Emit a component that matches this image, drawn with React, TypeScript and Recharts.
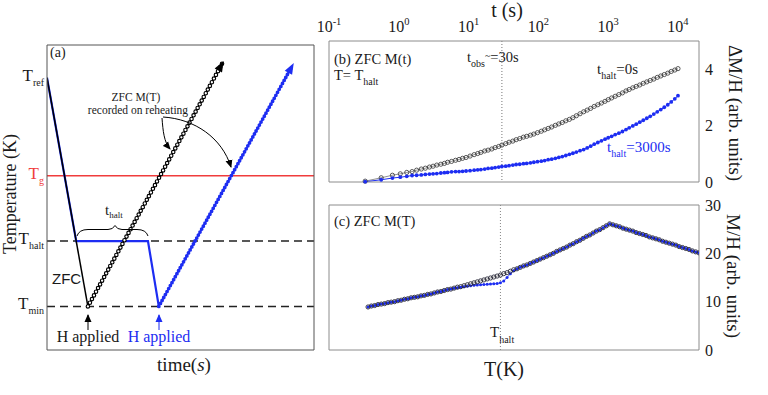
import React from 'react';
import { LineChart, Line, XAxis, YAxis, ReferenceLine } from 'recharts';

const SERIF = '"Liberation Serif", "Times New Roman", Times, serif';
const SANS = '"Liberation Sans", Arial, sans-serif';
const BLUE = '#1d2df2';
const RED = '#f03c3c';
const INK = '#1a1a1a';
const FRAME_A = '#555555';
const FRAME_BC = '#8c8c8c';

// ---------- Panel (a): measurement protocol (arbitrary time / temperature units) ----------
const levelValues = [4, 10, 16, 25];
const levelNames = ['min', 'halt', 'g', 'ref'];
const zfcCoolTime = [0, 2.45];
const zfcCoolTemp = [25, 4];
const zfcWarmTime = [2.45, 10.5];
const zfcWarmTemp = [4, 26.3];
const haltCoolTime = [0, 1.75, 6.05, 6.7];
const haltCoolTemp = [25, 10, 10, 4];
const haltWarmTime = [6.7, 14.7];
const haltWarmTemp = [4, 26.1];

// ---------- Panel (b): ZFC M(t) at T = T_halt ----------
const timeB = [
  0.33, 0.56, 0.81, 1.05, 1.3, 1.55, 1.8, 2.1, 2.4, 2.75,
  3.1, 3.5, 4, 4.5, 5, 5.7, 6.5, 7.3, 8.2, 9.2,
  10.5, 12, 13.5, 15, 17, 19, 21.5, 24, 27, 30,
  34, 38, 43, 48, 54, 61, 68, 77, 86, 97,
  110, 123, 138, 155, 175, 196, 220, 247, 278, 312,
  350, 395, 445, 500, 560, 630, 710, 800, 900, 1000,
  1120, 1260, 1420, 1600, 1800, 2000, 2250, 2520, 2830, 3180,
  3570, 4000, 4500, 5050, 5670, 6360, 7140, 8000, 9000, 10000,
];
const dMhalt0 = [
  0.03, 0.15, 0.24, 0.29, 0.34, 0.37, 0.42, 0.46, 0.49, 0.53,
  0.56, 0.60, 0.63, 0.66, 0.70, 0.73, 0.77, 0.80, 0.84, 0.87,
  0.92, 0.97, 1.01, 1.05, 1.10, 1.13, 1.17, 1.22, 1.26, 1.31,
  1.36, 1.41, 1.45, 1.50, 1.54, 1.59, 1.62, 1.66, 1.70, 1.75,
  1.80, 1.85, 1.90, 1.95, 2.01, 2.06, 2.11, 2.17, 2.22, 2.28,
  2.35, 2.42, 2.49, 2.55, 2.61, 2.68, 2.74, 2.80, 2.86, 2.92,
  2.98, 3.04, 3.10, 3.16, 3.23, 3.28, 3.34, 3.39, 3.44, 3.50,
  3.55, 3.60, 3.65, 3.71, 3.76, 3.81, 3.86, 3.92, 3.97, 4.02,
];
const dMhalt3000 = [
  0.01, 0.08, 0.14, 0.17, 0.20, 0.23, 0.24, 0.25, 0.27, 0.28,
  0.29, 0.30, 0.32, 0.33, 0.34, 0.36, 0.37, 0.37, 0.38, 0.39,
  0.40, 0.42, 0.43, 0.44, 0.46, 0.48, 0.49, 0.51, 0.53, 0.55,
  0.56, 0.58, 0.60, 0.62, 0.63, 0.65, 0.66, 0.68, 0.70, 0.72,
  0.74, 0.76, 0.79, 0.81, 0.84, 0.87, 0.90, 0.94, 0.98, 1.02,
  1.06, 1.11, 1.15, 1.21, 1.27, 1.34, 1.40, 1.46, 1.52, 1.57,
  1.62, 1.68, 1.73, 1.79, 1.86, 1.92, 1.99, 2.05, 2.12, 2.19,
  2.26, 2.33, 2.41, 2.49, 2.57, 2.65, 2.74, 2.84, 2.95, 3.06,
];
const tObs = 30;
const decadeTicks = [0.1, 1, 10, 100, 1000, 10000];

// ---------- Panel (c): ZFC M(T) ----------
const tempC = [
  0, 0.05, 0.1, 0.15, 0.2, 0.25, 0.3, 0.35, 0.4, 0.45,
  0.5, 0.55, 0.6, 0.65, 0.7, 0.75, 0.8, 0.85, 0.9, 0.95,
  1, 1.05, 1.1, 1.15, 1.2, 1.25, 1.3, 1.35, 1.4, 1.45,
  1.5, 1.55, 1.6, 1.65, 1.7, 1.75, 1.8, 1.85, 1.9, 1.95,
  2, 2.05, 2.1, 2.15, 2.2, 2.25, 2.3, 2.35, 2.4, 2.45,
  2.5, 2.55, 2.6, 2.65, 2.7, 2.75, 2.8, 2.85, 2.9, 2.95,
  3, 3.05, 3.1, 3.15, 3.2, 3.25, 3.3, 3.35, 3.4, 3.45,
  3.5, 3.55, 3.6, 3.65, 3.7, 3.75, 3.8, 3.85, 3.9, 3.95,
  4, 4.05, 4.1, 4.15, 4.2, 4.25, 4.3, 4.35, 4.4, 4.45,
  4.5, 4.55, 4.6, 4.65, 4.7, 4.75, 4.8, 4.85, 4.9, 4.95,
  5,
];
const mRef = [
  8.9, 9.1, 9.2, 9.4, 9.5, 9.6, 9.8, 9.9, 10.0, 10.2,
  10.3, 10.5, 10.6, 10.8, 10.9, 11.0, 11.2, 11.3, 11.5, 11.6,
  11.8, 12.0, 12.1, 12.3, 12.5, 12.6, 12.8, 13.0, 13.1, 13.3,
  13.5, 13.7, 13.9, 14.1, 14.3, 14.5, 14.7, 14.9, 15.1, 15.3,
  15.5, 15.8, 16.0, 16.3, 16.6, 16.8, 17.1, 17.4, 17.6, 17.9,
  18.2, 18.5, 18.8, 19.1, 19.4, 19.7, 20.0, 20.4, 20.7, 21.0,
  21.3, 21.7, 22.0, 22.4, 22.7, 23.1, 23.5, 23.8, 24.2, 24.6,
  24.9, 25.3, 25.7, 26.1, 25.9, 25.7, 25.5, 25.2, 25.0, 24.8,
  24.6, 24.3, 24.1, 23.9, 23.7, 23.4, 23.2, 23.0, 22.8, 22.5,
  22.3, 22.1, 21.9, 21.7, 21.4, 21.2, 21.0, 20.8, 20.5, 20.3,
  20.1,
];
const mHalt = [
  8.9, 9.1, 9.2, 9.4, 9.5, 9.6, 9.8, 9.9, 10.0, 10.2,
  10.3, 10.5, 10.6, 10.8, 10.9, 11.0, 11.2, 11.3, 11.5, 11.6,
  11.8, 12.0, 12.1, 12.3, 12.5, 12.6, 12.8, 12.9, 13.0, 13.1,
  13.2, 13.3, 13.4, 13.45, 13.5, 13.55, 13.6, 13.65, 13.7, 13.75,
  13.9, 14.3, 15.0, 15.8, 16.4, 16.8, 17.1, 17.4, 17.6, 17.9,
  18.2, 18.5, 18.8, 19.1, 19.4, 19.7, 20.0, 20.4, 20.7, 21.0,
  21.3, 21.7, 22.0, 22.4, 22.7, 23.1, 23.5, 23.8, 24.2, 24.6,
  24.9, 25.3, 25.7, 26.1, 25.9, 25.7, 25.5, 25.2, 25.0, 24.8,
  24.6, 24.3, 24.1, 23.9, 23.7, 23.4, 23.2, 23.0, 22.8, 22.5,
  22.3, 22.1, 21.9, 21.7, 21.4, 21.2, 21.0, 20.8, 20.5, 20.3,
  20.1,
];
const tHaltC = 2;

// ---------- helpers ----------
const pairs = (xs: number[], ys: number[]) => xs.map((x, i) => ({ time: x, temp: ys[i] }));
const range = (a: number, b: number) => Array.from({ length: b - a + 1 }, (_, i) => a + i);
const minorLogTicks: number[] = [];
[0.1, 1, 10, 100, 1000, 10000].forEach((d) => {
  for (let k = 2; k <= 9; k++) minorLogTicks.push(d * k);
});

const makeArrowDot = (color: string) => {
  let first: { x: number; y: number } | null = null;
  return (props: any) => {
    const { cx, cy, index, points } = props;
    if (index === 0) first = { x: cx, y: cy };
    const last = points ? points.length - 1 : 1;
    if (index !== last) return <g key={`a${index}`} />;
    const p0 = points ? { x: points[index - 1].x, y: points[index - 1].y } : first || { x: cx - 1, y: cy + 1 };
    const ang = (Math.atan2(cy - p0.y, cx - p0.x) * 180) / Math.PI;
    return (
      <path key={`a${index}`} d="M3,0 L-8,-4.2 L-8,4.2 Z" fill={color} transform={`translate(${cx},${cy}) rotate(${ang})`} />
    );
  };
};

const LevelTick = (props: any) => {
  const { x, y, payload } = props;
  const i = levelValues.indexOf(payload.value);
  const name = levelNames[i];
  const color = name === 'g' ? RED : INK;
  return (
    <text x={x} y={y + 3} textAnchor="end" fontFamily={SERIF} fill={color}>
      <tspan fontSize={17}>T</tspan>
      <tspan fontSize={10} dy={5}>{name}</tspan>
    </text>
  );
};

const PowTick = (props: any) => {
  const { x, y, payload } = props;
  const exp = Math.round(Math.log10(payload.value));
  return (
    <text x={x} y={y} textAnchor="middle" fontFamily={SERIF} fill={INK}>
      <tspan fontSize={16}>10</tspan>
      <tspan fontSize={10.5} dy={-7}>{exp}</tspan>
    </text>
  );
};

const abs: React.CSSProperties = { position: 'absolute', left: 0, top: 0 };

function PanelA() {
  const arrowK = makeArrowDot('#000');
  const arrowB = makeArrowDot(BLUE);
  const yTicks = range(0, 28);
  const xTicks = range(0, 16);
  return (
    <div style={abs}>
      <LineChart width={320} height={395} margin={{ top: 45, right: 6, bottom: 45, left: 46 }}>
        <XAxis xAxisId="b" dataKey="time" type="number" domain={[0, 16]} ticks={xTicks} orientation="bottom" mirror tick={false} tickSize={3} axisLine={{ stroke: FRAME_A }} tickLine={{ stroke: FRAME_A }} height={1} allowDataOverflow />
        <XAxis xAxisId="t" dataKey="time" type="number" domain={[0, 16]} ticks={xTicks} orientation="top" mirror tick={false} tickSize={3} axisLine={{ stroke: FRAME_A }} tickLine={{ stroke: FRAME_A }} height={1} allowDataOverflow />
        <YAxis yAxisId="l" dataKey="temp" type="number" domain={[0, 28]} ticks={yTicks} orientation="left" mirror tick={false} tickSize={3} axisLine={{ stroke: FRAME_A }} tickLine={{ stroke: FRAME_A }} width={1} allowDataOverflow />
        <YAxis yAxisId="r" dataKey="temp" type="number" domain={[0, 28]} ticks={yTicks} orientation="right" mirror tick={false} tickSize={3} axisLine={{ stroke: FRAME_A }} tickLine={{ stroke: FRAME_A }} width={1} allowDataOverflow />
        <YAxis yAxisId="lab" dataKey="temp" type="number" domain={[0, 28]} ticks={levelValues} orientation="left" tick={(p: any) => <LevelTick {...p} />} tickLine={false} tickSize={0} tickMargin={3} axisLine={false} width={1} allowDataOverflow />
        <ReferenceLine xAxisId="b" yAxisId="l" y={levelValues[2]} stroke={RED} strokeWidth={1.5} />
        <ReferenceLine xAxisId="b" yAxisId="l" y={levelValues[1]} stroke="#222" strokeWidth={1.4} strokeDasharray="8 5" />
        <ReferenceLine xAxisId="b" yAxisId="l" y={levelValues[0]} stroke="#222" strokeWidth={1.4} strokeDasharray="8 5" />
        <Line xAxisId="b" yAxisId="l" data={pairs(haltCoolTime, haltCoolTemp)} dataKey="temp" stroke={BLUE} strokeWidth={2.2} dot={false} isAnimationActive={false} />
        <Line xAxisId="b" yAxisId="l" data={pairs(zfcCoolTime, zfcCoolTemp)} dataKey="temp" stroke="#000" strokeWidth={1.5} dot={false} isAnimationActive={false} />
        <Line xAxisId="b" yAxisId="l" data={pairs(zfcWarmTime, zfcWarmTemp)} dataKey="temp" stroke="#000" strokeWidth={4.6} strokeDasharray="0 4.2" strokeLinecap="round" dot={false} isAnimationActive={false} />
        <Line xAxisId="b" yAxisId="l" data={pairs(zfcWarmTime, zfcWarmTemp)} dataKey="temp" stroke="#fff" strokeWidth={2.3} strokeDasharray="0 4.2" strokeLinecap="round" dot={arrowK} isAnimationActive={false} />
        <Line xAxisId="b" yAxisId="l" data={pairs(haltWarmTime, haltWarmTemp)} dataKey="temp" stroke={BLUE} strokeWidth={1.2} dot={false} isAnimationActive={false} />
        <Line xAxisId="b" yAxisId="l" data={pairs(haltWarmTime, haltWarmTemp)} dataKey="temp" stroke={BLUE} strokeWidth={3.8} strokeDasharray="0 3.4" strokeLinecap="round" dot={arrowB} isAnimationActive={false} />
      </LineChart>
    </div>
  );
}

function PanelB() {
  const rows = timeB.map((t, i) => ({ t, zero: dMhalt0[i], long: dMhalt3000[i] }));
  const common = { dataKey: 't', type: 'number' as const, scale: 'log' as const, domain: [0.1, 20000], allowDataOverflow: true, height: 1 };
  return (
    <div style={abs}>
      <LineChart width={768} height={200} data={rows} margin={{ top: 40, right: 68, bottom: 18, left: 328 }}>
        <XAxis xAxisId="top" {...common} orientation="top" ticks={decadeTicks} tick={(p: any) => <PowTick {...p} />} tickLine={false} tickSize={0} tickMargin={9} axisLine={{ stroke: FRAME_BC }} />
        <XAxis xAxisId="topMaj" {...common} orientation="top" mirror ticks={decadeTicks} tick={false} tickSize={4.5} tickLine={{ stroke: FRAME_BC }} axisLine={false} />
        <XAxis xAxisId="topMin" {...common} orientation="top" mirror ticks={minorLogTicks} tick={false} tickSize={2.5} tickLine={{ stroke: FRAME_BC }} axisLine={false} />
        <XAxis xAxisId="botMaj" {...common} orientation="bottom" mirror ticks={decadeTicks} tick={false} tickSize={4.5} tickLine={{ stroke: FRAME_BC }} axisLine={{ stroke: FRAME_BC }} />
        <XAxis xAxisId="botMin" {...common} orientation="bottom" mirror ticks={minorLogTicks} tick={false} tickSize={2.5} tickLine={{ stroke: FRAME_BC }} axisLine={false} />
        <YAxis yAxisId="r" type="number" domain={[0, 5]} ticks={[0, 2, 4]} orientation="right" tick={{ fontSize: 16, fill: INK, fontFamily: SERIF }} tickLine={false} tickSize={0} tickMargin={6} axisLine={{ stroke: FRAME_BC }} width={1} />
        <YAxis yAxisId="rm" type="number" domain={[0, 5]} ticks={[2, 4]} orientation="right" mirror tick={false} tickSize={4} tickLine={{ stroke: FRAME_BC }} axisLine={false} width={1} />
        <YAxis yAxisId="l" type="number" domain={[0, 5]} orientation="left" tick={false} tickLine={false} axisLine={{ stroke: FRAME_BC }} width={1} />
        <ReferenceLine xAxisId="top" yAxisId="r" x={tObs} stroke="#777" strokeDasharray="1 2" />
        <Line xAxisId="top" yAxisId="r" dataKey="zero" stroke="#444" strokeWidth={0.6} dot={{ r: 2.1, fill: 'none', stroke: '#333', strokeWidth: 0.8 }} isAnimationActive={false} />
        <Line xAxisId="top" yAxisId="r" dataKey="long" stroke={BLUE} strokeWidth={1} dot={{ r: 1.9, fill: BLUE, stroke: 'none' }} isAnimationActive={false} />
      </LineChart>
    </div>
  );
}

function PanelC() {
  const rows = tempC.map((T, i) => ({ T, ref: mRef[i], halt: mHalt[i] }));
  return (
    <div style={abs}>
      <LineChart width={768} height={395} data={rows} margin={{ top: 204, right: 68, bottom: 45, left: 328 }}>
        <XAxis xAxisId="b" dataKey="T" type="number" domain={[-0.59, 5]} ticks={[0, 1, 2, 3, 4]} orientation="bottom" mirror tick={false} tickSize={4} tickLine={{ stroke: FRAME_BC }} axisLine={{ stroke: FRAME_BC }} height={1} allowDataOverflow />
        <XAxis xAxisId="t" dataKey="T" type="number" domain={[-0.59, 5]} orientation="top" tick={false} tickLine={false} axisLine={{ stroke: FRAME_BC }} height={1} allowDataOverflow />
        <YAxis yAxisId="r" type="number" domain={[0, 30]} ticks={[0, 10, 20, 30]} orientation="right" tick={{ fontSize: 16, fill: INK, fontFamily: SERIF }} tickLine={false} tickSize={0} tickMargin={6} axisLine={{ stroke: FRAME_BC }} width={1} />
        <YAxis yAxisId="rm" type="number" domain={[0, 30]} ticks={[10, 20]} orientation="right" mirror tick={false} tickSize={4} tickLine={{ stroke: FRAME_BC }} axisLine={false} width={1} />
        <YAxis yAxisId="l" type="number" domain={[0, 30]} orientation="left" tick={false} tickLine={false} axisLine={{ stroke: FRAME_BC }} width={1} />
        <ReferenceLine xAxisId="b" yAxisId="r" x={tHaltC} stroke="#888" strokeDasharray="1 2" />
        <Line xAxisId="b" yAxisId="r" dataKey="halt" stroke={BLUE} strokeWidth={0.8} dot={{ r: 1.5, fill: BLUE, stroke: 'none' }} isAnimationActive={false} />
        <Line xAxisId="b" yAxisId="r" dataKey="ref" stroke="#333" strokeWidth={0.5} dot={{ r: 2.1, fill: 'none', stroke: '#2a2a3a', strokeWidth: 0.9 }} isAnimationActive={false} />
      </LineChart>
    </div>
  );
}

function Annotations() {
  return (
    <svg width={768} height={395} style={{ ...abs, pointerEvents: 'none' }} fontFamily={SERIF} fill={INK}>
      <defs>
        <marker id="ahK" markerWidth="8" markerHeight="8" refX="7" refY="4" orient="auto" markerUnits="userSpaceOnUse">
          <path d="M0,0.5 L8,4 L0,7.5 Z" fill="#000" />
        </marker>
        <marker id="ahB" markerWidth="8" markerHeight="8" refX="7" refY="4" orient="auto" markerUnits="userSpaceOnUse">
          <path d="M0,0.5 L8,4 L0,7.5 Z" fill={BLUE} />
        </marker>
      </defs>
      {/* panel (a) */}
      <text x={50} y={57} fontSize={14}>(a)</text>
      <text transform="translate(16,194) rotate(-90)" textAnchor="middle" fontSize={18}>Temperature (K)</text>
      <text x={184} y={371} textAnchor="middle" fontSize={19}>time(<tspan fontStyle="italic">s</tspan>)</text>
      <text x={136} y={101} textAnchor="middle" fontSize={11.5}>ZFC M(T)</text>
      <text x={138} y={114} textAnchor="middle" fontSize={11.5}>recorded on reheating</text>
      <path d="M162,118 C163,131 164,142 170,149" fill="none" stroke="#000" strokeWidth={1} markerEnd="url(#ahK)" />
      <path d="M163,117 C195,119 222,138 231,167" fill="none" stroke="#000" strokeWidth={1} markerEnd="url(#ahK)" />
      <text x={105} y={215} fontSize={15}>t<tspan fontSize={9} dy={3}>halt</tspan></text>
      <path d="M77,236 Q79,229.5 88,229.5 L108,229.5 Q113,229.5 115,225.5 Q117,229.5 122,229.5 L137,229.5 Q146,229.5 148,236" fill="none" stroke="#000" strokeWidth={1} />
      <text x={52} y={284} fontSize={15} fontFamily={SANS}>ZFC</text>
      <path d="M88,330 L88,315" stroke="#000" strokeWidth={1} markerEnd="url(#ahK)" />
      <path d="M159,330 L159,315" stroke={BLUE} strokeWidth={1} markerEnd="url(#ahB)" />
      <text x={88} y={342} textAnchor="middle" fontSize={16}>H applied</text>
      <text x={159} y={342} textAnchor="middle" fontSize={16} fill={BLUE}>H applied</text>
      {/* panel (b) */}
      <text x={507} y={17} textAnchor="middle" fontSize={20}>t (s)</text>
      <text x={334} y={64} fontSize={14.5}>(b) ZFC M(t)</text>
      <text x={334} y={80} fontSize={14.5}>T= T<tspan fontSize={10} dy={5}>halt</tspan></text>
      <text x={467} y={62} fontSize={14.5}>t<tspan fontSize={10} dy={5}>obs</tspan><tspan fontSize={10} dy={-8}>~</tspan><tspan dy={3}>=30s</tspan></text>
      <text x={597} y={74} fontSize={15}>t<tspan fontSize={10} dy={5}>halt</tspan><tspan dy={-5}>=0s</tspan></text>
      <text x={607} y={152} fontSize={15} fill={BLUE}>t<tspan fontSize={10} dy={5}>halt</tspan><tspan dy={-5}>=3000s</tspan></text>
      <text transform="translate(729,113) rotate(90)" textAnchor="middle" fontSize={19}>ΔM/H (arb. units)</text>
      {/* panel (c) */}
      <text x={334} y={226} fontSize={14.5}>(c) ZFC M(T)</text>
      <text x={490} y={337} fontSize={15}>T<tspan fontSize={10} dy={6}>halt</tspan></text>
      <text x={504} y={376} textAnchor="middle" fontSize={20}>T(K)</text>
      <text transform="translate(727,276) rotate(90)" textAnchor="middle" fontSize={19}>M/H (arb. units)</text>
    </svg>
  );
}

export default function App() {
  return (
    <div style={{ position: 'absolute', left: 0, top: 0, width: 768, height: 395, background: '#fff', fontFamily: SERIF }}>
      <PanelA />
      <PanelB />
      <PanelC />
      <Annotations />
    </div>
  );
}
